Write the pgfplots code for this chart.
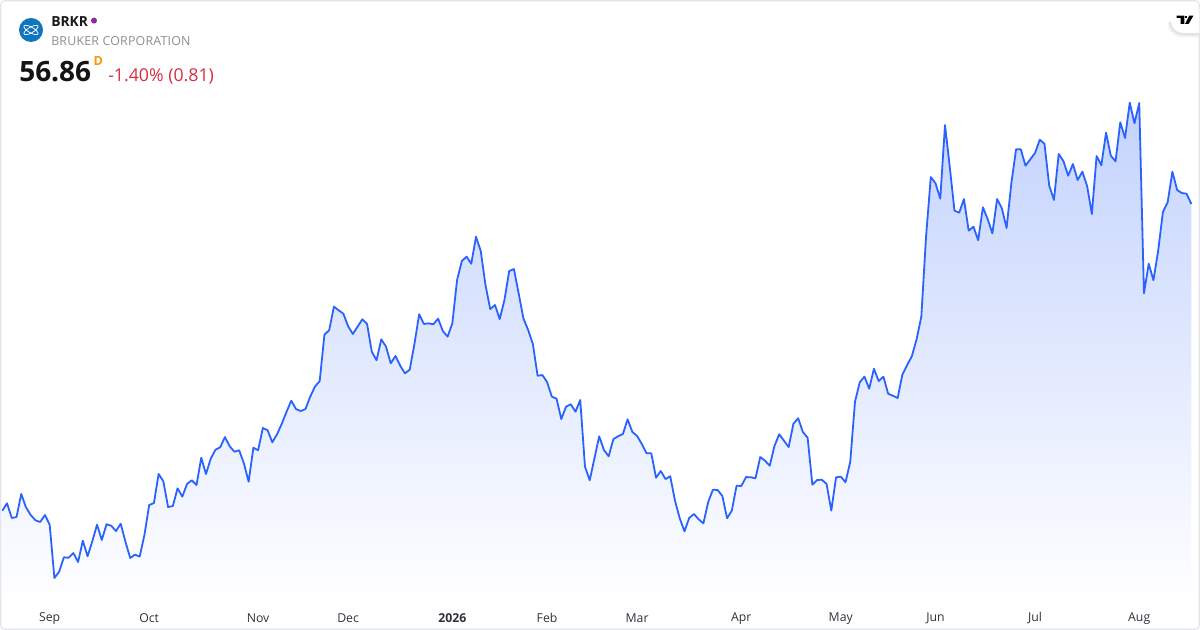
\documentclass[border=0pt]{standalone}
\usepackage{pgfplots}
\usepackage{pgfplotstable}
\pgfplotsset{compat=1.18}
\usepackage{fontspec}
\setmainfont{Open Sans}
\definecolor{tvblue}{HTML}{2962FF}
\definecolor{areatop}{HTML}{C4D3FE}
\definecolor{tick}{HTML}{2F323B}
\definecolor{subgray}{HTML}{8A8D94}
\definecolor{neg}{HTML}{D32F3F}
\definecolor{border}{HTML}{E3E5EA}
\definecolor{logoblue}{HTML}{0F75BC}
\definecolor{dotpurple}{HTML}{8E24AA}
\definecolor{dorange}{HTML}{FF9800}
\pgfplotstableread{
i p
0 33.86
1 34.41
2 33.31
3 33.38
4 35.11
5 34.11
6 33.53
7 33.14
8 33.01
9 33.53
10 32.81
11 28.81
12 29.28
13 30.36
14 30.33
15 30.68
16 30.01
17 31.61
18 30.44
19 31.56
20 32.81
21 31.66
22 32.84
23 32.73
24 32.33
25 32.88
26 31.53
27 30.31
28 30.56
29 30.41
30 32.03
31 34.28
32 34.43
33 36.61
34 36.06
35 34.13
36 34.21
37 35.54
38 34.91
39 35.86
40 36.14
41 35.78
42 37.83
43 36.61
44 37.76
45 38.43
46 38.61
47 39.38
48 38.69
49 38.28
50 38.39
51 37.41
52 36.03
53 38.58
54 38.39
55 40.06
56 39.89
57 38.99
58 39.59
59 40.38
60 41.28
61 42.11
62 41.48
63 41.33
64 41.48
65 42.41
66 43.16
67 43.58
68 47.06
69 47.39
70 49.16
71 48.89
72 48.63
73 47.69
74 47.11
75 47.66
76 48.21
77 47.86
78 45.78
79 45.14
80 46.71
81 46.16
82 44.91
83 45.46
84 44.73
85 44.16
86 44.43
87 46.36
88 48.59
89 47.86
90 47.91
91 47.84
92 48.26
93 47.33
94 46.91
95 47.91
96 51.16
97 52.58
98 52.91
99 52.38
100 54.41
101 53.33
102 50.78
103 48.98
104 49.28
105 48.23
106 49.66
107 51.83
108 51.98
109 50.16
110 48.29
111 47.41
112 46.36
113 43.98
114 44.03
115 43.51
116 42.41
117 42.26
118 40.73
119 41.66
120 41.84
121 41.28
122 42.16
123 37.16
124 36.14
125 37.79
126 39.44
127 38.41
128 37.94
129 39.23
130 39.44
131 39.61
132 40.71
133 39.76
134 39.46
135 38.86
136 38.16
137 38.16
138 36.33
139 36.83
140 36.23
141 36.44
142 34.61
143 33.29
144 32.31
145 33.31
146 33.61
147 33.21
148 32.91
149 34.49
150 35.43
151 35.41
152 34.96
153 33.29
154 33.86
155 35.73
156 35.71
157 36.38
158 36.36
159 36.29
160 37.88
161 37.61
162 37.23
163 38.71
164 39.59
165 39.11
166 38.63
167 40.38
168 40.79
169 39.76
170 39.33
171 35.81
172 36.16
173 36.18
174 35.86
175 33.86
176 36.36
177 36.41
178 35.99
179 37.53
180 42.03
181 43.49
182 43.91
183 43.01
184 44.51
185 43.58
186 43.91
187 42.63
188 42.48
189 42.31
190 44.06
191 44.78
192 45.44
193 46.71
194 48.41
195 54.41
196 58.88
197 58.41
198 57.26
199 62.78
200 59.66
201 56.36
202 56.21
203 57.23
204 54.86
205 55.16
206 54.14
207 56.61
208 55.73
209 54.66
210 57.23
211 56.54
212 55.06
213 58.41
214 60.96
215 60.96
216 59.73
217 60.21
218 60.68
219 61.68
220 61.38
221 58.23
222 57.16
223 60.61
224 60.08
225 58.98
226 59.86
227 58.66
228 59.28
229 58.21
230 56.11
231 60.46
232 59.76
233 62.21
234 60.48
235 60.06
236 62.99
237 61.81
238 64.46
239 62.91
240 64.43
241 50.16
242 52.38
243 51.14
244 53.36
245 56.26
246 56.99
247 59.28
248 57.91
249 57.68
250 57.63
251 56.86
}\pricetable
\begin{document}
\begin{tikzpicture}
\begin{axis}[
  scale only axis,
  width=900pt,
  height=472.5pt,
  xmin=-0.486, xmax=252.83,
  ymin=24.91, ymax=72.16,
  axis line style={draw=none},
  major tick length=0pt,
  ytick=\empty,
  xtick={10,31,54,73,95,115,134,156,177,197,218,240},
  xticklabels={Sep,Oct,Nov,Dec,\textbf{2026},Feb,Mar,Apr,May,Jun,Jul,Aug},
  xticklabel style={font=\fontsize{9.2pt}{11pt}\selectfont,text=tick,anchor=center,yshift=8.8pt},
  x tick label as interval=false,
  clip=true,
]
\addplot[draw=none,shading=axis,top color=areatop,bottom color=white,forget plot]
  table[x=i,y=p]{\pricetable} -- (axis cs:251,26.8) -- (axis cs:0,26.8) -- cycle;
\addplot[tvblue,line width=1.35pt,line join=round,mark=none] table[x=i,y=p]{\pricetable};
\end{axis}
\begin{scope}[x=0.75pt,y=-0.75pt,yshift=472.5pt]
  % frame
  \draw[border,line width=0.9pt,rounded corners=3pt] (0.7,0.7) rectangle (1199.3,629.3);
  % TV badge
  \foreach \w/\o in {9/0.02,7/0.025,5/0.03,3/0.04}{
    \draw[black,opacity=\o,line width=\w*0.75pt] (1198.5,33.5) -- (1183,33.5) arc[start angle=90,end angle=180,radius=12] ;
  }
  \fill[white] (1199.3,9) -- (1183,9) arc[start angle=-90,end angle=-270,radius=12] -- (1199.3,33) -- cycle;
  \fill[black] (1176.6,15.7) -- (1184.3,15.7) -- (1184.3,24) -- (1180.7,24) -- (1180.7,18) -- (1176.6,18) -- cycle;
  \fill[black] (1185,15.7) -- (1187,15.7) -- (1187,18) -- (1185,18) -- cycle;
  \fill[black] (1189.2,15.7) -- (1193.4,15.7) -- (1188.6,24) -- (1185,24) -- cycle;
  % company logo
  \fill[logoblue] (31,30) circle[radius=12];
  \begin{scope}[white,line width=0.55pt]
    \draw[rotate around={30:(31,30)}] (31,30) ellipse[x radius=8,y radius=2.8];
    \draw[rotate around={-30:(31,30)}] (31,30) ellipse[x radius=8,y radius=2.8];
  \end{scope}
  % header
  \node[anchor=base west,inner sep=0pt,text=black!90] at (51,26.8) {\fontsize{10.4pt}{12pt}\selectfont\textbf{BRKR}};
  \fill[dotpurple] (94,20.6) circle[radius=3];
  \node[anchor=base west,inner sep=0pt,text=subgray] at (51,45.8) {\addfontfeature{LetterSpace=1.6}\fontsize{9.3pt}{11pt}\selectfont BRUKER CORPORATION};
  \node[anchor=base west,inner sep=0pt,text=black!92] at (19,82) {\fontsize{21pt}{24pt}\selectfont\textbf{56.86}};
  \node[anchor=base west,inner sep=0pt,text=dorange] at (93.3,66) {\fontsize{9.5pt}{11pt}\selectfont\textbf{D}};
  \node[anchor=base west,inner sep=0pt,text=neg] at (108,81.5) {\fontsize{13.3pt}{16pt}\selectfont -1.40\% (0.81)};
\end{scope}
\pgfresetboundingbox
\useasboundingbox (0,0) rectangle (900pt,472.5pt);
\end{tikzpicture}
\end{document}
